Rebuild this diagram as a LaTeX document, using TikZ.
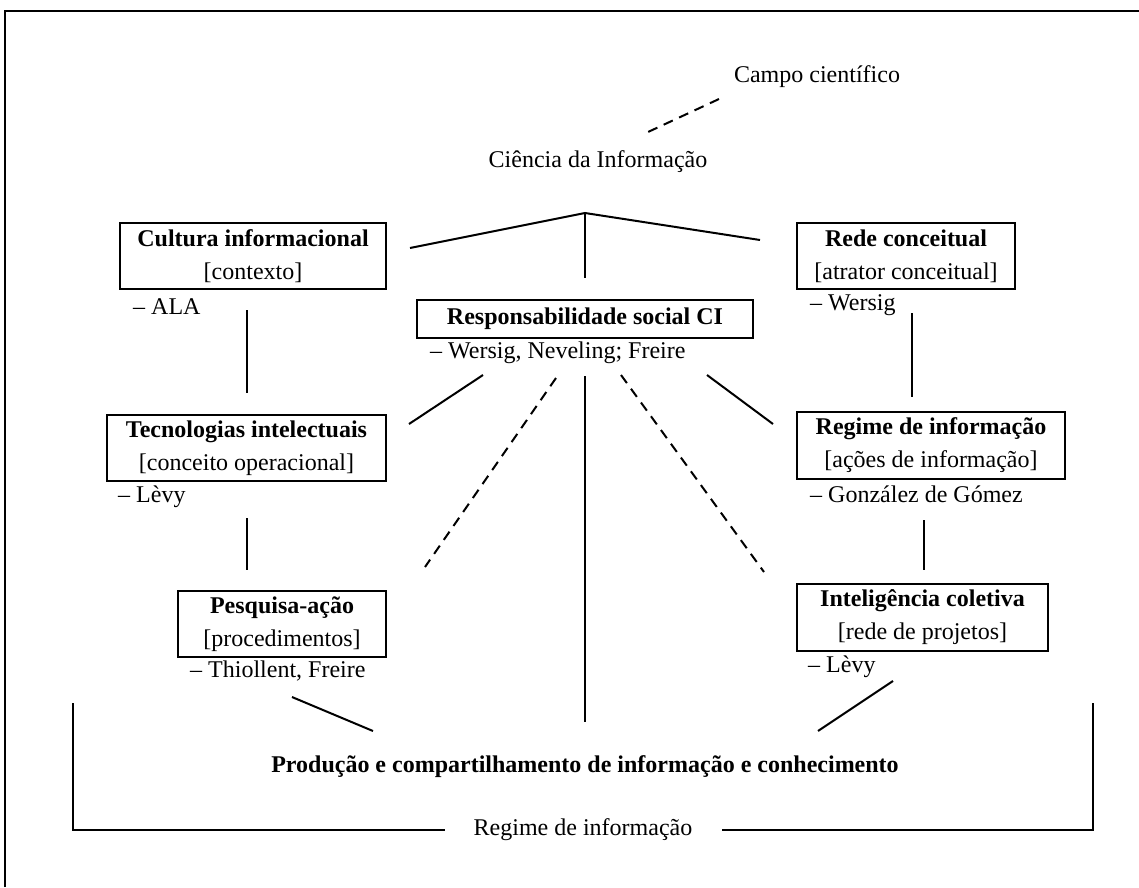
\documentclass[tikz,border=0pt]{standalone}
\usepackage{fontspec}
\setmainfont{Liberation Serif}
\begin{document}
\begin{tikzpicture}[x=1pt,y=-1pt,
  every node/.style={font=\fontsize{24}{33}\selectfont},
  box/.style={draw,line width=1.3pt,inner sep=0pt,align=center,font=\fontsize{24}{33}\selectfont},
  txt/.style={inner sep=0pt,anchor=west},
  ln/.style={line width=2pt},
  dsh/.style={line width=2pt,dash pattern=on 10pt off 7pt},
  frame/.style={line width=2pt}
]
\useasboundingbox (0,0) rectangle (1139,887);
% outer frame (top and left visible)
\coordinate (f1) at (5,887);
\coordinate (f2) at (5,11);
\coordinate (f3) at (1139,11);
\draw[frame] (f1) -- (f2) -- (f3);

% top texts
\node (campo) at (817,77) {Campo científico};
\node (cienc) at (598,162) {Ciência da Informação};
\coordinate (ca) at (719,99);
\coordinate (cb) at (648,132);
\draw[dsh] (ca) -- (cb);

% boxes
\node[box,minimum width=266pt,minimum height=66pt] (cult) at (253,256) {\textbf{Cultura informacional}\\{[contexto]}};
\node[box,minimum width=336pt,minimum height=38pt] (resp) at (585,319) {\textbf{Responsabilidade social CI}};
\node[box,minimum width=218pt,minimum height=66pt] (rede) at (906,256) {\textbf{Rede conceitual}\\{[atrator conceitual]}};
\node[box,minimum width=279pt,minimum height=66pt] (tecn) at (246.5,448) {\textbf{Tecnologias intelectuais}\\{[conceito operacional]}};
\node[box,minimum width=268pt,minimum height=67pt] (regi) at (931,445.5) {\textbf{Regime de informação}\\{[ações de informação]}};
\node[box,minimum width=208pt,minimum height=66pt] (pesq) at (282,624) {\textbf{Pesquisa-ação}\\{[procedimentos]}};
\node[box,minimum width=251pt,minimum height=67pt] (inte) at (922.5,617.5) {\textbf{Inteligência coletiva}\\{[rede de projetos]}};

% author lines
\node[txt] (aala) at (133,307) {– ALA};
\node[txt] (aresp) at (430,353) {– Wersig, Neveling; Freire};
\node[txt] (arede) at (810,305) {– Wersig};
\node[txt] (atecn) at (118,497) {– Lèvy};
\node[txt] (aregi) at (810,494) {– González de Gómez};
\node[txt] (apesq) at (190,671) {– Thiollent, Freire};
\node[txt] (ainte) at (808,667) {– Lèvy};

% bottom texts
\node[font=\fontsize{24}{33}\selectfont\bfseries] (prod) at (585,767) {Produção e compartilhamento de informação e conhecimento};
\node (regb) at (583,830) {Regime de informação};

% connector coordinates
\coordinate (pk) at (585,213);
\coordinate (pl) at (410,248);
\coordinate (pr) at (760,240);
\coordinate (pc) at (585,278);
\draw[ln] (pl) -- (pk) -- (pr);
\draw[ln] (pk) -- (pc);

\coordinate (v1a) at (247,310); \coordinate (v1b) at (247,393);
\coordinate (v2a) at (247,518); \coordinate (v2b) at (247,570);
\coordinate (v3a) at (912,313); \coordinate (v3b) at (912,397);
\coordinate (v4a) at (924,520); \coordinate (v4b) at (924,570);
\draw[ln] (v1a) -- (v1b);
\draw[ln] (v2a) -- (v2b);
\draw[ln] (v3a) -- (v3b);
\draw[ln] (v4a) -- (v4b);

\coordinate (s1a) at (483,375); \coordinate (s1b) at (409,424);
\coordinate (d1a) at (556,378); \coordinate (d1b) at (425,567);
\coordinate (cva) at (585,376); \coordinate (cvb) at (585,722);
\coordinate (d2a) at (621,375); \coordinate (d2b) at (764,572);
\coordinate (s2a) at (707,375); \coordinate (s2b) at (773,424);
\draw[ln] (s1a) -- (s1b);
\draw[dsh] (d1a) -- (d1b);
\draw[ln] (cva) -- (cvb);
\draw[dsh] (d2a) -- (d2b);
\draw[ln] (s2a) -- (s2b);

\coordinate (b1a) at (292,697); \coordinate (b1b) at (373,731);
\coordinate (b2a) at (893,681); \coordinate (b2b) at (818,731);
\draw[ln] (b1a) -- (b1b);
\draw[ln] (b2a) -- (b2b);

% bracket
\coordinate (k1) at (73,703); \coordinate (k2) at (73,830); \coordinate (k3) at (445,830);
\coordinate (k4) at (722,830); \coordinate (k5) at (1093,830); \coordinate (k6) at (1093,703);
\draw[ln] (k1) -- (k2) -- (k3);
\draw[ln] (k4) -- (k5) -- (k6);
\end{tikzpicture}
\end{document}
